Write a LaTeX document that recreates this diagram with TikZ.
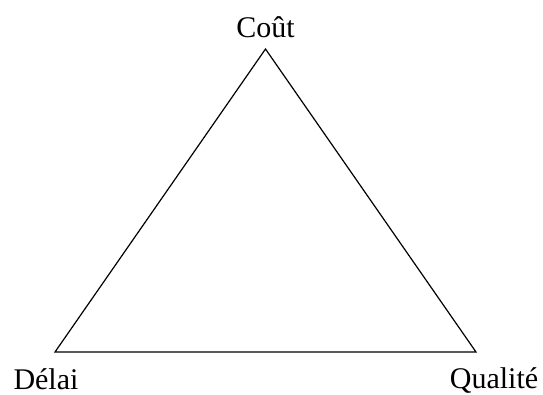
\documentclass[tikz,border=0pt]{standalone}
\usepackage{fontspec}
\setmainfont{Liberation Serif}
\begin{document}
\begin{tikzpicture}[x=1pt,y=-1pt,
  lbl/.style={inner sep=0pt,anchor=base,font=\fontsize{30}{36}\selectfont},
  edge/.style={line width=1.2pt,line join=miter}]
\useasboundingbox (0,0) rectangle (543,394);
\coordinate (top) at (265.5,49);
\coordinate (left) at (55,352);
\coordinate (right) at (476,352);
\draw[edge] (top) -- (left) -- (right) -- cycle;
\node[lbl] (cout) at (265.5,37) {Coût};
\node[lbl] (delai) at (46,389) {Délai};
\node[lbl] (qual) at (494,388.5) {Qualité};
\end{tikzpicture}
\end{document}
